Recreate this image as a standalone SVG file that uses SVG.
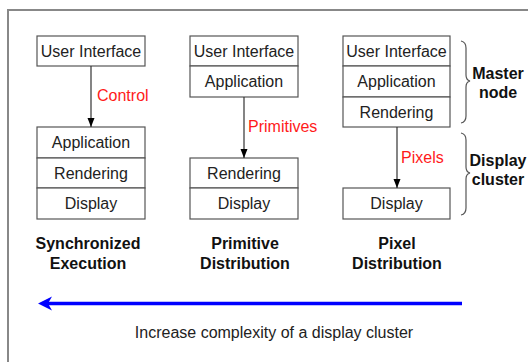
<svg xmlns="http://www.w3.org/2000/svg" width="528" height="362" viewBox="0 0 528 362">
<style>
.box{fill:#fff;stroke:#555;stroke-width:1.2}
.t{font-family:"Liberation Sans",Arial,sans-serif;font-size:16px;fill:#222;text-anchor:middle}
.r{font-family:"Liberation Sans",Arial,sans-serif;font-size:16px;fill:#ff1a1a}
.b{font-family:"Liberation Sans",Arial,sans-serif;font-size:16px;font-weight:bold;fill:#111;text-anchor:middle}
.c{stroke:#333;stroke-width:1.2;fill:none}
.br{stroke:#555;stroke-width:1.2;fill:none}
</style>
<defs>
<marker id="ah" markerWidth="10" markerHeight="10" refX="9" refY="5" orient="auto" markerUnits="userSpaceOnUse">
<path d="M0,1.5 L9,5 L0,8.5 Z" fill="#000"/>
</marker>
</defs>
<rect width="528" height="362" fill="#fff"/>
<path d="M8,362 V10 H528" fill="none" stroke="#888" stroke-width="2"/>

<g id="col1">
<g id="ui1"><rect class="box" x="37" y="36" width="108" height="30"/><text class="t" x="91" y="56.5">User Interface</text></g>
<g id="app1"><rect class="box" x="37" y="127" width="108" height="31"/><text class="t" x="91" y="148">Application</text></g>
<g id="ren1"><rect class="box" x="37" y="158" width="108" height="30"/><text class="t" x="91" y="178.5">Rendering</text></g>
<g id="dis1"><rect class="box" x="37" y="188" width="108" height="31"/><text class="t" x="91" y="209">Display</text></g>
<g id="lab1"><text class="b" x="88" y="249">Synchronized</text><text class="b" x="88" y="269">Execution</text></g>
</g>

<g id="col2">
<g id="ui2"><rect class="box" x="190" y="36" width="108" height="30"/><text class="t" x="244" y="56.5">User Interface</text></g>
<g id="app2"><rect class="box" x="190" y="66" width="108" height="31"/><text class="t" x="244" y="87">Application</text></g>
<g id="ren2"><rect class="box" x="190" y="158" width="108" height="30"/><text class="t" x="244" y="178.5">Rendering</text></g>
<g id="dis2"><rect class="box" x="190" y="188" width="108" height="31"/><text class="t" x="244" y="209">Display</text></g>
<g id="lab2"><text class="b" x="245" y="249">Primitive</text><text class="b" x="245" y="269">Distribution</text></g>
</g>

<g id="col3">
<g id="ui3"><rect class="box" x="343" y="36" width="107" height="30"/><text class="t" x="396.5" y="56.5">User Interface</text></g>
<g id="app3"><rect class="box" x="343" y="66" width="107" height="31"/><text class="t" x="396.5" y="87">Application</text></g>
<g id="ren3"><rect class="box" x="343" y="97" width="107" height="30"/><text class="t" x="396.5" y="117.5">Rendering</text></g>
<g id="dis3"><rect class="box" x="343" y="188" width="107" height="31"/><text class="t" x="396.5" y="209">Display</text></g>
<g id="lab3"><text class="b" x="397" y="249">Pixel</text><text class="b" x="397" y="269">Distribution</text></g>
</g>

<g id="braces">
<path class="br" d="M461,41 Q466,42 466,48 V75 Q466,80 470,81 Q466,82 466,87 V116 Q466,122 461,123"/>
<path class="br" d="M461,133 Q466,134 466,140 V167 Q466,172 470,173 Q466,174 466,179 V208 Q466,214 461,215"/>
<text class="b" x="498" y="79">Master</text><text class="b" x="498" y="98">node</text>
<text class="b" x="498" y="166">Display</text><text class="b" x="498" y="185">cluster</text>
</g>

<g id="connectors">
<line class="c" x1="91" y1="66" x2="91" y2="127" marker-end="url(#ah)"/>
<text class="r" x="97" y="101">Control</text>
<line class="c" x1="244" y1="97" x2="244" y2="158" marker-end="url(#ah)"/>
<text class="r" x="248" y="132">Primitives</text>
<line class="c" x1="397" y1="127" x2="397" y2="188" marker-end="url(#ah)"/>
<text class="r" x="401" y="163">Pixels</text>
<line x1="462" y1="303.5" x2="48" y2="303.5" stroke="#0000ff" stroke-width="3.5"/>
<path d="M38,303.5 L52,296.5 L48,303.5 L52,310.5 Z" fill="#0000ff"/>
</g>
<text class="t" x="274" y="338">Increase complexity of a display cluster</text>
</svg>
